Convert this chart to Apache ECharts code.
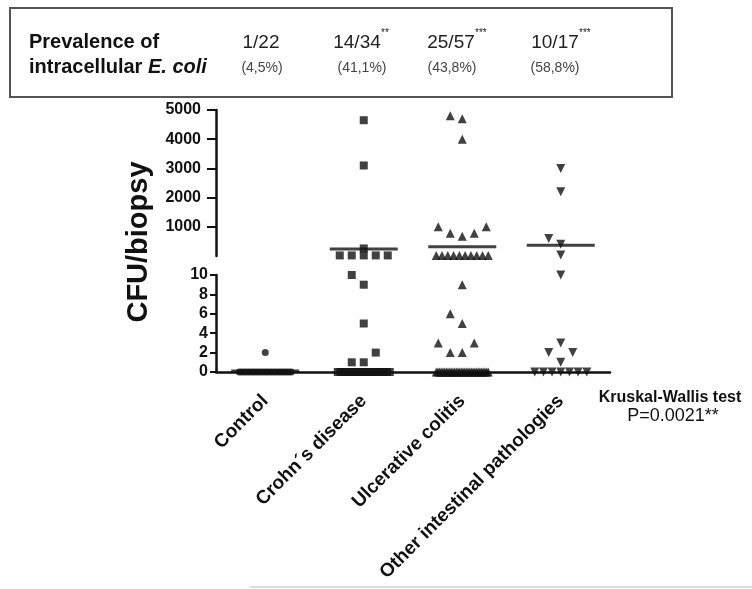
<!DOCTYPE html>
<html><head><meta charset="utf-8">
<script src="https://cdn.jsdelivr.net/npm/echarts@6/dist/echarts.min.js"></script>
<style>html,body{margin:0;padding:0;background:#fff}#c{width:752px;height:589px}</style>
</head><body><div id="c"></div>
<script>
// ---------------- data ----------------
const categories = ['Control', 'Crohn\u00b4s disease', 'Ulcerative colitis', 'Other intestinal pathologies'];
const controlValues = [2, 0,0,0,0,0,0,0,0,0,0,0,0,0,0,0,0,0,0,0,0,0];
const crohnValues = [4650, 3100, 260, 20,20,20,20,20, 10, 9, 5, 2, 1, 1,
  0,0,0,0,0,0,0,0,0,0,0,0,0,0,0,0,0,0,0,0];
const ucValues = [4800, 4700, 4000, 1000, 1000, 775, 775, 680, 20,20,20,20,20,20,20,20,20,20,
  9, 6, 5, 3, 3, 2, 2,
  0,0,0,0,0,0,0,0,0,0,0,0,0,0,0,0,0,0,0,0,0,0,0,0,0,0,0,0,0,0,0,0];
const otherValues = [3000, 2200, 600, 400, 30, 10, 3, 2, 2, 1, 0,0,0,0,0,0,0];
const upperTicks = [1000, 2000, 3000, 4000, 5000];
const lowerTicks = [0, 2, 4, 6, 8, 10];
const prevFractions = ['1/22', '14/34', '25/57', '10/17'];
const prevStars = ['', '**', '***', '***'];
const prevPercents = ['(4,5%)', '(41,1%)', '(43,8%)', '(58,8%)'];
const kwTitle = 'Kruskal-Wallis test';
const kwP = 'P=0.0021**';

// ---------------- styling ----------------
const groups = [controlValues, crohnValues, ucValues, otherValues];
const symbols = ['circle', 'rect', 'triangle', 'triangle'];
const rotations = [0, 0, 0, 180];
const sizes = [7, 8, 9, 9];
const INK = '#111';
const FONT = '"Liberation Sans", Arial, Helvetica, sans-serif';
const BREAK = 10; // values above go to upper segment

function makeSeries(offsets) {
  const series = [];
  groups.forEach((vals, g) => {
    [0, 1].forEach(gi => {
      const data = [];
      vals.forEach((v, k) => {
        const inUpper = v > BREAK;
        if ((gi === 0) !== inUpper) return;
        const dx = offsets ? offsets[g][k] : 0;
        data.push({ value: [g, v], symbolOffset: [dx, 0] });
      });
      series.push({
        type: 'scatter', xAxisIndex: gi, yAxisIndex: gi,
        symbol: symbols[g], symbolRotate: rotations[g], symbolSize: sizes[g],
        itemStyle: { color: INK }, data: data, z: 3, silent: true
      });
    });
  });
  // mean lines
  [0, 1].forEach(gi => {
    const data = [];
    groups.forEach((vals, g) => {
      const mean = vals.reduce((a, b) => a + b, 0) / vals.length;
      if ((gi === 0) === (mean > BREAK)) data.push([g, mean]);
    });
    series.push({
      type: 'scatter', xAxisIndex: gi, yAxisIndex: gi, symbol: 'rect',
      symbolSize: [68, 3], itemStyle: { color: INK }, data: data, z: 4, silent: true
    });
  });
  return series;
}

function computeOffsets(chart) {
  const STEP = 12, WIDTH = 52, COLL = 10;
  return groups.map((vals, g) => {
    const pts = vals.map((v, k) => {
      const gi = v > BREAK ? 0 : 1;
      const p = chart.convertToPixel({ gridIndex: gi }, [g, v]);
      return { k: k, v: v, y: p[1], dx: 0 };
    });
    const counts = {};
    vals.forEach(v => { counts[v] = (counts[v] || 0) + 1; });
    const out = new Array(vals.length).fill(0);
    const placed = [];
    Object.keys(counts).forEach(key => {
      const n = counts[key];
      if (n < 3) return;
      const sp = Math.min(STEP, WIDTH / (n - 1));
      let j = 0;
      pts.forEach(p => {
        if (String(p.v) === key) { out[p.k] = (j - (n - 1) / 2) * sp; j++; }
      });
    });
    const singles = pts.filter(p => counts[p.v] < 3).sort((a, b) => a.v - b.v);
    singles.forEach(p => {
      const cands = [0];
      for (let m = 1; m < 8; m++) { cands.push(-m * STEP, m * STEP); }
      for (const c of cands) {
        const hit = placed.some(q => Math.abs(q.y - p.y) < COLL && Math.abs(q.dx - c) < COLL);
        if (!hit) { p.dx = c; break; }
      }
      placed.push(p);
      out[p.k] = p.dx;
    });
    return out;
  });
}

const axisLineStyle = { color: INK, width: 2.5 };
const tickStyle = { color: INK, width: 2 };
const plainNum = v => String(v);
const option = {
  animation: false,
  backgroundColor: '#fff',
  grid: [
    { left: 216, top: 110, width: 394, height: 146 },
    { left: 216, top: 275, width: 394, height: 97 }
  ],
  xAxis: [
    { gridIndex: 0, type: 'category', data: categories, show: false },
    { gridIndex: 1, type: 'category', data: categories,
      axisLine: { lineStyle: axisLineStyle },
      axisTick: { alignWithLabel: true, length: 8, lineStyle: tickStyle },
      axisLabel: { rotate: 45, interval: 0, fontSize: 19, fontWeight: 'bold', color: INK,
        fontFamily: FONT, margin: 26 } }
  ],
  yAxis: [
    { gridIndex: 0, type: 'value', min: 0, max: 5000, interval: 1000,
      axisLine: { show: true, lineStyle: axisLineStyle },
      axisTick: { show: true, length: 9, lineStyle: tickStyle, customValues: upperTicks },
      axisLabel: { fontSize: 16, fontWeight: 'bold', color: INK, fontFamily: FONT, margin: 15,
        customValues: upperTicks, formatter: plainNum },
      splitLine: { show: false } },
    { gridIndex: 1, type: 'value', min: 0, max: 10, interval: 2,
      axisLine: { show: true, lineStyle: axisLineStyle },
      axisTick: { show: true, length: 6, lineStyle: tickStyle, customValues: lowerTicks },
      axisLabel: { fontSize: 16, fontWeight: 'bold', color: INK, fontFamily: FONT, margin: 8,
        customValues: lowerTicks, formatter: plainNum },
      splitLine: { show: false } }
  ],
  series: makeSeries(null),
  graphic: []
};

// annotation graphics
const g = [];
g.push({ type: 'rect', shape: { x: 10, y: 8, width: 662, height: 89 },
  style: { fill: 'none', stroke: '#555', lineWidth: 2 } });
g.push({ type: 'text', x: 29, y: 42, style: { text: 'Prevalence of', font: 'bold 20px ' + FONT,
  fill: INK, textVerticalAlign: 'middle' } });
g.push({ type: 'text', x: 29, y: 67, style: { text: 'intracellular {i|E. coli}',
  font: 'bold 20px ' + FONT, fill: INK, textVerticalAlign: 'middle',
  rich: { i: { fontStyle: 'italic', fontWeight: 'bold', fontSize: 20, fontFamily: FONT, fill: INK } } } });
const fracX = [261, 357, 451, 555];
const pctX = [262, 362, 452, 555];
prevFractions.forEach((f, i) => {
  g.push({ type: 'text', x: fracX[i], y: 43, style: { text: f, font: '19px ' + FONT,
    fill: '#222', textAlign: 'center', textVerticalAlign: 'middle' } });
  if (prevStars[i]) {
    g.push({ type: 'text', x: fracX[i] + 24, y: 33, style: { text: prevStars[i], font: '10px ' + FONT,
      fill: '#222', textAlign: 'left', textVerticalAlign: 'middle' } });
  }
  g.push({ type: 'text', x: pctX[i], y: 68, style: { text: prevPercents[i], font: '14px ' + FONT,
    fill: '#444', textAlign: 'center', textVerticalAlign: 'middle' } });
});
g.push({ type: 'text', x: 139, y: 242, rotation: Math.PI / 2, style: { text: 'CFU/biopsy',
  font: 'bold 29px ' + FONT, fill: INK, textAlign: 'center', textVerticalAlign: 'middle' } });
g.push({ type: 'text', x: 670, y: 398, style: { text: kwTitle, font: 'bold 16px ' + FONT,
  fill: INK, textAlign: 'center', textVerticalAlign: 'middle' } });
g.push({ type: 'text', x: 673, y: 416, style: { text: kwP, font: '18px ' + FONT,
  fill: INK, textAlign: 'center', textVerticalAlign: 'middle' } });
g.push({ type: 'line', shape: { x1: 250, y1: 587, x2: 752, y2: 587 },
  style: { stroke: '#bbb', lineWidth: 1 } });
option.graphic = g;

const chart = echarts.init(document.getElementById('c'), null, { renderer: 'canvas' });
chart.setOption(option);
const offsets = computeOffsets(chart);
chart.setOption({ series: makeSeries(offsets) });
</script>
</body></html>
